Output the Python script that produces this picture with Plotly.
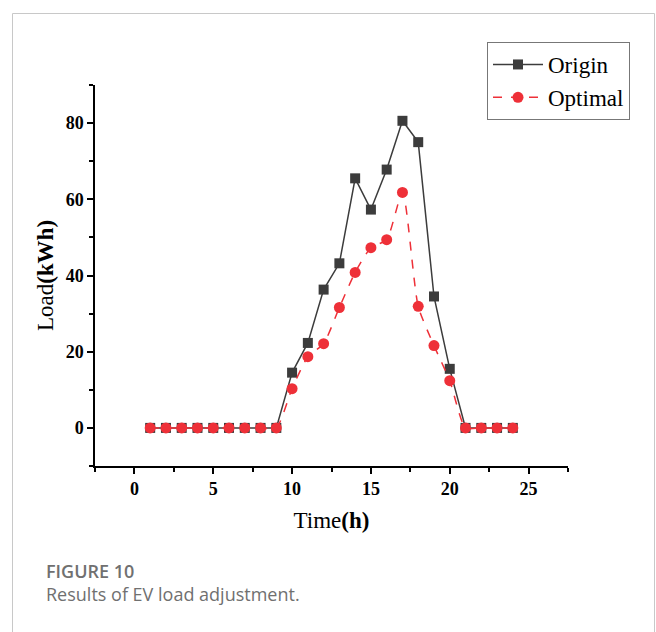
import plotly.graph_objects as go

hours = list(range(1, 25))
origin = [0, 0, 0, 0, 0, 0, 0, 0, 0, 14.5, 22.3, 36.3, 43.2, 65.5, 57.3, 67.8, 80.6, 75.0, 34.5, 15.5, 0, 0, 0, 0]
optimal = [0, 0, 0, 0, 0, 0, 0, 0, 0, 10.3, 18.7, 22.1, 31.6, 40.8, 47.3, 49.4, 61.8, 31.9, 21.6, 12.4, 0, 0, 0, 0]

x_ticks = [0, 5, 10, 15, 20, 25]
y_ticks = [0, 20, 40, 60, 80]

L, R, T, B = 95, 88, 85, 166
W, H = 656, 632
pw, ph = W - L - R, H - T - B

def px(x):
    return (x - L) / pw

def py(y):
    return (H - B - y) / ph

serif = "Liberation Serif, Times New Roman, serif"

fig = go.Figure()
fig.add_trace(go.Scatter(
    x=hours, y=origin, name="Origin", mode="lines+markers",
    line=dict(color="#3c3c3c", width=1.5),
    marker=dict(symbol="square", size=10, color="#3c3c3c"),
))
fig.add_trace(go.Scatter(
    x=hours, y=optimal, name="Optimal", mode="lines+markers",
    line=dict(color="#ee3038", width=1.5, dash="dash", shape="spline", smoothing=0.6),
    marker=dict(symbol="circle", size=11, color="#ee3038"),
))

axis_common = dict(
    showline=True, linecolor="black", linewidth=1.5,
    ticks="outside", ticklen=6, tickwidth=1.5, tickcolor="black",
    showgrid=False, zeroline=False,
    tickfont=dict(family=serif, size=18, color="black", weight="bold"),
)

fig.update_xaxes(
    range=[-2.5, 27.5], tickvals=x_ticks,
    minor=dict(dtick=2.5, tick0=0, ticks="outside", ticklen=4, tickwidth=1.5, tickcolor="black"),
    title=dict(text="Time<b>(h)</b>", font=dict(family=serif, size=23, color="black"), standoff=14),
    **axis_common,
)
fig.update_yaxes(
    range=[-10, 90], tickvals=y_ticks,
    minor=dict(dtick=10, tick0=0, ticks="outside", ticklen=4, tickwidth=1.5, tickcolor="black"),
    title=dict(text="Load<b>(kWh)</b>", font=dict(family=serif, size=23, color="black"), standoff=6),
    **axis_common,
)

fig.update_layout(
    width=W, height=H,
    margin=dict(l=L, r=R, t=T, b=B, autoexpand=False),
    paper_bgcolor="white", plot_bgcolor="white",
    showlegend=True,
    legend=dict(
        x=px(487), y=py(42), xanchor="left", yanchor="top",
        bordercolor="#777777", borderwidth=1, bgcolor="white",
        font=dict(family=serif, size=23, color="black"),
        tracegroupgap=0, itemwidth=50,
    ),
    shapes=[dict(
        type="rect", xref="paper", yref="paper",
        x0=px(12.5), x1=px(654.5), y0=py(660), y1=py(13.5),
        line=dict(color="#c8c8c8", width=1), fillcolor="rgba(0,0,0,0)", layer="below",
    )],
    annotations=[
        dict(text="FIGURE 10", xref="paper", yref="paper", x=px(44), y=py(571),
             xanchor="left", yanchor="middle", showarrow=False,
             font=dict(family="Open Sans, sans-serif", size=18, color="#707070", weight=600)),
        dict(text="Results of EV load adjustment.", xref="paper", yref="paper", x=px(44), y=py(594),
             xanchor="left", yanchor="middle", showarrow=False,
             font=dict(family="Open Sans, sans-serif", size=18, color="#707070")),
    ],
)

fig.write_html("out.html")
